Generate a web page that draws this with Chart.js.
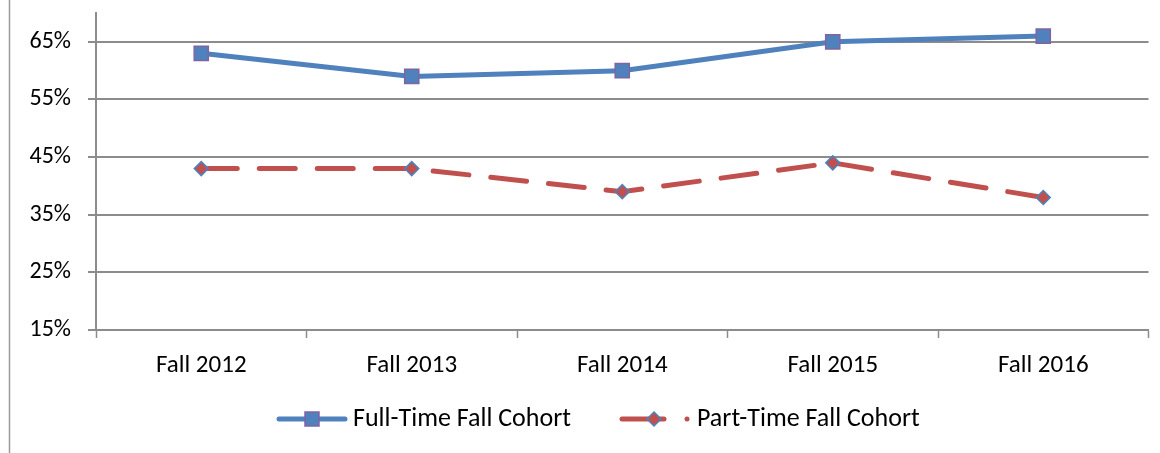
<!DOCTYPE html>
<html>
<head>
<meta charset="utf-8">
<script src="https://cdn.jsdelivr.net/npm/chart.js@4"></script>
<style>
  html, body { margin: 0; padding: 0; background: #fff; }
  #wrap { width: 1160px; height: 453px; }
</style>
</head>
<body>
<div id="wrap"><canvas id="cohort-chart" width="1160" height="453"></canvas></div>
<script>
const cohortLabels = ['Fall 2012', 'Fall 2013', 'Fall 2014', 'Fall 2015', 'Fall 2016'];
const fullTimeData = [63, 59, 60, 65, 66];
const partTimeData = [43, 43, 39, 44, 38];
const yTickValues = [15, 25, 35, 45, 55, 65];

const BLUE = '#4F81BD';
const RED = '#C0504D';
const PURPLE = '#8064A2';
const GRID = '#8c8c8c';
const FONT = 'Carlito, Lato, "Open Sans", sans-serif';

// left frame line + legend with line and marker samples
const legendPlugin = {
    id: 'cohortLegend',
    afterDraw(chart) {
        const ctx = chart.ctx;
        ctx.save();
        ctx.strokeStyle = '#9a9a9a';
        ctx.lineWidth = 1.5;
        ctx.beginPath();
        ctx.moveTo(9.5, 0);
        ctx.lineTo(9.5, 453);
        ctx.stroke();

        const y = 419;
        ctx.lineCap = 'round';
        ctx.lineWidth = 5;
        ctx.strokeStyle = BLUE;
        ctx.beginPath();
        ctx.moveTo(279, y);
        ctx.lineTo(345, y);
        ctx.stroke();
        ctx.fillStyle = BLUE;
        ctx.strokeStyle = PURPLE;
        ctx.lineWidth = 1.5;
        ctx.fillRect(305, y - 7, 14, 14);
        ctx.strokeRect(305, y - 7, 14, 14);

        ctx.strokeStyle = RED;
        ctx.lineWidth = 5;
        ctx.beginPath();
        ctx.moveTo(622, y);
        ctx.lineTo(664, y);
        ctx.stroke();
        ctx.fillStyle = RED;
        ctx.beginPath();
        ctx.arc(687, y, 2.5, 0, Math.PI * 2);
        ctx.fill();
        ctx.strokeStyle = BLUE;
        ctx.lineWidth = 1.5;
        ctx.beginPath();
        ctx.moveTo(654, y - 7);
        ctx.lineTo(661, y);
        ctx.lineTo(654, y + 7);
        ctx.lineTo(647, y);
        ctx.closePath();
        ctx.fill();
        ctx.stroke();

        ctx.fillStyle = '#000';
        ctx.font = '26px ' + FONT;
        ctx.textBaseline = 'middle';
        ctx.textAlign = 'left';
        ctx.fillText('Full-Time Fall Cohort', 353, y);
        ctx.fillText('Part-Time Fall Cohort', 697, y);
        ctx.restore();
    }
};

const ctx = document.getElementById('cohort-chart').getContext('2d');
new Chart(ctx, {
    type: 'line',
    data: {
        labels: cohortLabels,
        datasets: [{
            label: 'Full-Time Fall Cohort',
            data: fullTimeData,
            borderColor: BLUE,
            borderWidth: 5,
            backgroundColor: BLUE,
            pointStyle: 'rect',
            pointRadius: 10,
            pointBackgroundColor: BLUE,
            pointBorderColor: PURPLE,
            pointBorderWidth: 1.5,
            tension: 0
        }, {
            label: 'Part-Time Fall Cohort',
            data: partTimeData,
            borderColor: RED,
            borderWidth: 5,
            borderDash: [36, 22],
            borderCapStyle: 'round',
            backgroundColor: RED,
            pointStyle: 'rectRot',
            pointRadius: 7,
            pointBackgroundColor: RED,
            pointBorderColor: BLUE,
            pointBorderWidth: 1.5,
            tension: 0
        }]
    },
    options: {
        responsive: false,
        animation: false,
        layout: { padding: { top: 13, right: 8, left: 0, bottom: 0 } },
        scales: {
            x: {
                offset: true,
                afterFit: (scale) => {
                    scale.height = 123;
                    scale.paddingLeft = 0;
                    scale.paddingRight = 0;
                },
                grid: {
                    offset: true,
                    drawOnChartArea: false,
                    color: GRID,
                    tickLength: 8,
                    tickWidth: 1.5
                },
                border: { color: GRID, width: 2 },
                ticks: {
                    color: '#000',
                    padding: 13,
                    font: { family: FONT, size: 25 }
                }
            },
            y: {
                min: 15,
                max: 70,
                afterFit: (scale) => {
                    scale.width = 96;
                    scale.paddingTop = 0;
                    scale.paddingBottom = 0;
                },
                afterBuildTicks: (scale) => {
                    scale.ticks = yTickValues.map(v => ({ value: v }));
                },
                grid: {
                    color: GRID,
                    lineWidth: 2,
                    tickLength: 8
                },
                border: { color: GRID, width: 2 },
                ticks: {
                    color: '#000',
                    padding: 17,
                    font: { family: FONT, size: 24 },
                    callback: (value) => value + '%'
                }
            }
        },
        plugins: {
            legend: { display: false },
            tooltip: { enabled: false }
        }
    },
    plugins: [legendPlugin]
});
</script>
</body>
</html>
